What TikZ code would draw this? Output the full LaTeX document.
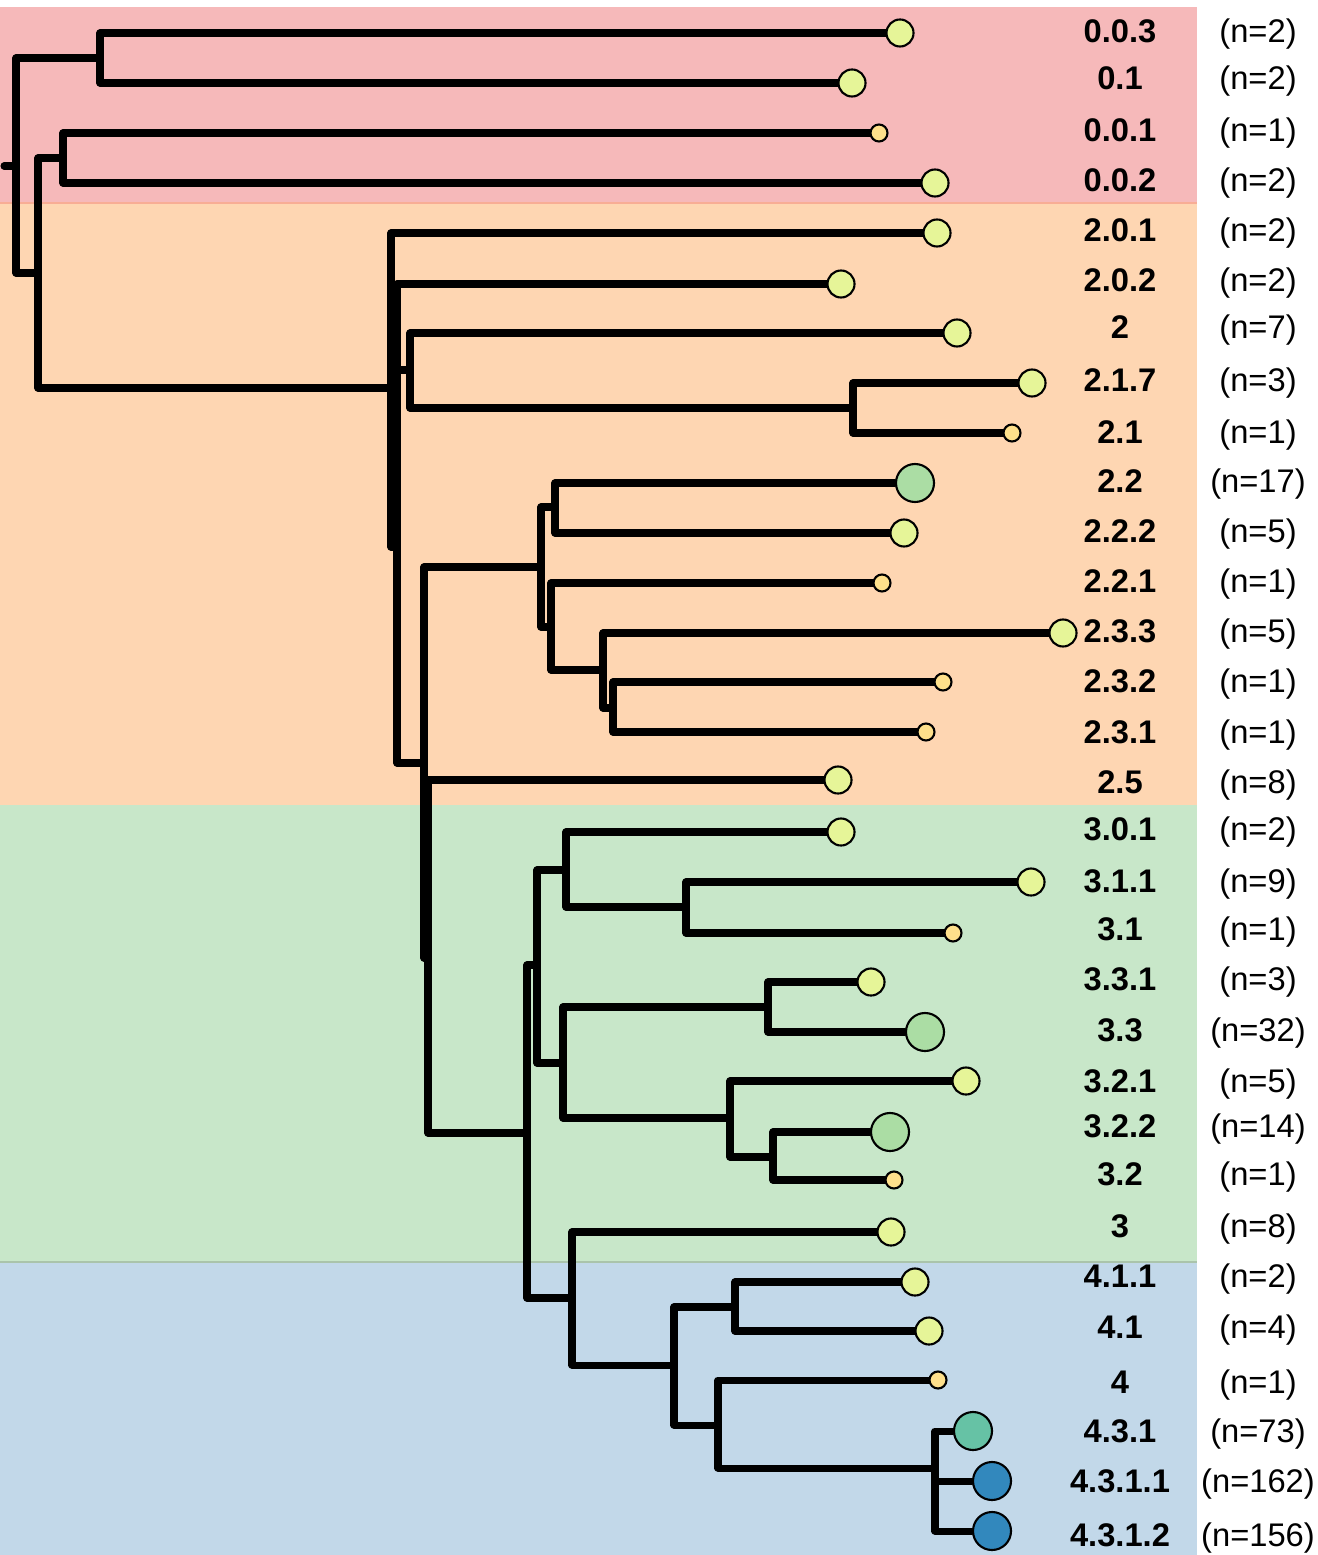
\documentclass[tikz,border=0pt]{standalone}
\usepackage{fontspec}
\setmainfont{Liberation Sans}
\usetikzlibrary{backgrounds}

\definecolor{bandred}{HTML}{F6B9BA}
\definecolor{bandorange}{HTML}{FED6B2}
\definecolor{bandgreen}{HTML}{C8E7C9}
\definecolor{bandblue}{HTML}{C2D8E9}
\definecolor{onecol}{HTML}{FEE08B}
\definecolor{fewcol}{HTML}{E6F598}
\definecolor{manycol}{HTML}{ABDDA4}
\definecolor{tealcol}{HTML}{66C2A5}
\definecolor{bluecol}{HTML}{3288BD}

\tikzset{
  branch/.style={line width=2pt, line join=round, line cap=round},
  tipbase/.style={circle, draw=black, line width=0.6pt, inner sep=0pt},
  tipone/.style={tipbase, minimum size=0.17cm, fill=onecol},
  tipfew/.style={tipbase, minimum size=0.27cm, fill=fewcol},
  tipmany/.style={tipbase, minimum size=0.38cm, fill=manycol},
  tipteal/.style={tipbase, minimum size=0.38cm, fill=tealcol},
  tipblue/.style={tipbase, minimum size=0.38cm, fill=bluecol},
  cladelab/.style={font=\bfseries\fontsize{9.3}{11}\selectfont, anchor=base, inner sep=0pt},
  countlab/.style={font=\fontsize{9.3}{11}\selectfont, anchor=base, inner sep=0pt},
  bandline/.style={line width=0.3pt}
}

\begin{document}
\begin{tikzpicture}[x=0.01cm, y=-0.01cm]
    \useasboundingbox (0,0) rectangle (1317,1555);

    % Tips
    \foreach \x/\y/\sz [count=\i] in {900/33/tipfew, 852/83/tipfew, 879/133/tipone, 935/183/tipfew,
      937/233/tipfew, 841/284/tipfew, 957/333/tipfew, 1032/383/tipfew, 1012/433/tipone,
      915/483/tipmany, 904/533/tipfew, 882/583/tipone, 1063/633/tipfew, 943/682/tipone,
      926/732/tipone, 838/780/tipfew, 841/832/tipfew, 1031/882/tipfew, 953/933/tipone,
      871/982/tipfew, 925/1032/tipmany, 966/1081/tipfew, 890/1132/tipmany, 894/1180/tipone,
      891/1232/tipfew, 915/1282/tipfew, 929/1331/tipfew, 938/1380/tipone, 973/1431/tipteal,
      992/1481/tipblue, 992/1531/tipblue}
      \node[\sz] (t\i) at (\x,\y) {};

    % Labels
    \foreach \lab/\cnt/\y [count=\i] in {0.0.3/2/31, 0.1/2/78, 0.0.1/1/130, 0.0.2/2/180,
      2.0.1/2/230, 2.0.2/2/280, 2/7/327, 2.1.7/3/380, 2.1/1/432, 2.2/17/481, 2.2.2/5/531,
      2.2.1/1/581, 2.3.3/5/631, 2.3.2/1/681, 2.3.1/1/732, 2.5/8/782, 3.0.1/2/829,
      3.1.1/9/881, 3.1/1/929, 3.3.1/3/979, 3.3/32/1030, 3.2.1/5/1081, 3.2.2/14/1126,
      3.2/1/1174, 3/8/1226, 4.1.1/2/1276, 4.1/4/1327, 4/1/1382, 4.3.1/73/1431,
      4.3.1.1/162/1481, 4.3.1.2/156/1535}
    {
      \node[cladelab] (lab\i) at (1120,\y+11.5) {\lab};
      \node[countlab] (cnt\i) at (1258,\y+11.5) {(n=\cnt)};
    }

    % Internal nodes
    \coordinate (root) at (4,166);
    \coordinate (R) at (16,166);
    \coordinate (A) at (100,58);
    \coordinate (B) at (38,273);
    \coordinate (C) at (63,158);
    \coordinate (D) at (391,388);
    \coordinate (E) at (397,547);
    \coordinate (F) at (410,370);
    \coordinate (H) at (853,408);
    \coordinate (G) at (424,763);
    \coordinate (J) at (428,958);
    \coordinate (I) at (541,567);
    \coordinate (L) at (555,507);
    \coordinate (M) at (551,627);
    \coordinate (N) at (603,670);
    \coordinate (O) at (613,708);
    \coordinate (K) at (527,1133);
    \coordinate (P) at (537,965);
    \coordinate (Q) at (572,1298);
    \coordinate (S) at (566,870);
    \coordinate (U) at (686,907);
    \coordinate (T) at (563,1063);
    \coordinate (V) at (768,1007);
    \coordinate (W) at (730,1118);
    \coordinate (X) at (773,1157);
    \coordinate (Y) at (674,1365);
    \coordinate (Z) at (735,1307);
    \coordinate (AA) at (718,1425);
    \coordinate (AB) at (935,1468);

    \begin{scope}[on background layer]
      % Lineage bands
      \fill[bandred] (0,7) rectangle (1197,203);
      \fill[bandorange] (0,203) rectangle (1197,805);
      \fill[bandgreen] (0,805) rectangle (1197,1262);
      \fill[bandblue] (0,1262) rectangle (1197,1555);
      \draw[bandline, bandred!80!orange] (0,203) -- (1197,203);
      \draw[bandline, bandgreen!85!black] (0,1262) -- (1197,1262);

      % Branches
      \draw[branch] (root) -- (R);
      \foreach \p/\c in {R/A, R/B, A/t1, A/t2, B/C, B/D, C/t3, C/t4, D/t5, D/E, E/t6, E/F, E/G,
        F/t7, F/H, H/t8, H/t9, G/I, G/J, I/L, I/M, L/t10, L/t11, M/t12, M/N, N/t13, N/O,
        O/t14, O/t15, J/t16, J/K, K/P, K/Q, P/S, P/T, S/t17, S/U, U/t18, U/t19, T/V, T/W,
        V/t20, V/t21, W/t22, W/X, X/t23, X/t24, Q/t25, Q/Y, Y/Z, Y/AA, Z/t26, Z/t27,
        AA/t28, AA/AB, AB/t29, AB/t30, AB/t31}
        \draw[branch] (\p) |- (\c);
    \end{scope}

\end{tikzpicture}
\end{document}
